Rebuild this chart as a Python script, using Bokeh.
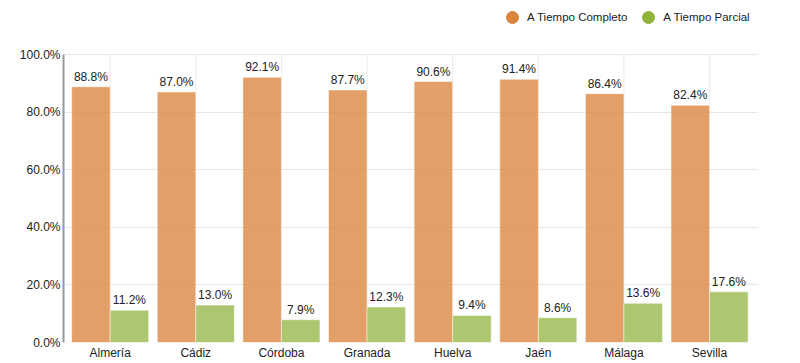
from bokeh.plotting import figure
from bokeh.models import (ColumnDataSource, FixedTicker, PrintfTickFormatter,
                          Range1d, Legend, LegendItem)
from bokeh.core.properties import value
from bokeh.embed import file_html
from bokeh.resources import INLINE

provinces = ["Almería", "Cádiz", "Córdoba", "Granada", "Huelva", "Jaén", "Málaga", "Sevilla"]
full_time = [88.8, 87.0, 92.1, 87.7, 90.6, 91.4, 86.4, 82.4]
part_time = [11.2, 13.0, 7.9, 12.3, 9.4, 8.6, 13.6, 17.6]
y_ticks = [0, 20, 40, 60, 80, 100]
series_names = ["A Tiempo Completo", "A Tiempo Parcial"]

ORANGE = "#DB843D"
GREEN = "#8EB23A"
FONT = "Liberation Sans"
BW = 0.45
W, H = 790, 363
TOP, BOTTOM, LEFT, RIGHT = 4, 21, 63, 33
FRAME_H = H - TOP - BOTTOM          # 338 px
PLOT_H = 288                        # px between 0% and 100%
Y_MAX = 100 * FRAME_H / PLOT_H      # head-room for the legend
NAN = float("nan")

idx = list(range(len(provinces)))
src_full = ColumnDataSource(dict(
    x=[i - BW / 2 for i in idx], top=full_time,
    label=[f"{v:.1f}%" for v in full_time]))
src_part = ColumnDataSource(dict(
    x=[i + BW / 2 for i in idx], top=part_time,
    label=[f"{v:.1f}%" for v in part_time]))

p = figure(width=W, height=H, output_backend="svg",
           toolbar_location=None,
           x_range=Range1d(-0.545, 7.56), y_range=Range1d(0, Y_MAX),
           min_border_left=LEFT, min_border_right=RIGHT, min_border_top=TOP,
           min_border_bottom=BOTTOM)
p.outline_line_color = None

# vertical grid lines at category centres, 0% .. 100%
p.segment(x0=idx, y0=[y_ticks[0]] * len(idx), x1=idx,
          y1=[y_ticks[-1]] * len(idx), line_color="#ebebeb", line_width=1)

p.vbar(x="x", top="top", width=BW, source=src_full, fill_color=ORANGE,
       fill_alpha=0.78, line_color="white", line_alpha=0.5, line_width=1)
p.vbar(x="x", top="top", width=BW, source=src_part, fill_color=GREEN,
       fill_alpha=0.72, line_color="white", line_alpha=0.5, line_width=1)

for src in (src_full, src_part):
    p.text(x="x", y="top", text="label", source=src, text_align="center",
           text_baseline="bottom", y_offset=-3, text_font=value(FONT),
           text_font_size="12px", text_color="#222222")

# Legend with circle glyphs (renderers hold no visible point)
r1 = p.scatter([NAN], [NAN], marker="circle", size=12, color=ORANGE)
r2 = p.scatter([NAN], [NAN], marker="circle", size=12, color=GREEN)
legend = Legend(items=[LegendItem(label=series_names[0], renderers=[r1]),
                       LegendItem(label=series_names[1], renderers=[r2])],
                orientation="horizontal", location=(434, 310),
                glyph_width=30, glyph_height=30, label_height=30,
                label_standoff=-7, spacing=6, padding=0, margin=0,
                border_line_color=None, background_fill_alpha=0,
                label_text_font=FONT, label_text_font_size="11.5px",
                label_text_color="#222222")
p.add_layout(legend)

# Axes
p.xaxis.ticker = FixedTicker(ticks=idx)
p.xaxis.major_label_overrides = {i: name for i, name in enumerate(provinces)}
p.xaxis.axis_line_color = None
p.xaxis.major_tick_line_color = None
p.xaxis.minor_tick_line_color = None
p.xaxis.major_tick_out = 0
p.xaxis.major_tick_in = 0
p.xaxis.minor_tick_out = 0
p.xaxis.major_label_standoff = 3
p.xaxis.major_label_text_font = FONT
p.xaxis.major_label_text_font_size = "12px"
p.xaxis.major_label_text_color = "#222222"

p.yaxis.ticker = FixedTicker(ticks=y_ticks)
p.yaxis.bounds = (y_ticks[0], y_ticks[-1])
p.yaxis.formatter = PrintfTickFormatter(format="%.1f%%")
p.yaxis.axis_line_color = "#999999"
p.yaxis.axis_line_width = 2
p.yaxis.major_tick_line_color = None
p.yaxis.minor_tick_line_color = None
p.yaxis.major_tick_out = 0
p.yaxis.major_tick_in = 0
p.yaxis.minor_tick_out = 0
p.yaxis.major_label_standoff = 3
p.yaxis.major_label_text_font = FONT
p.yaxis.major_label_text_font_size = "12px"
p.yaxis.major_label_text_color = "#222222"

p.xgrid.visible = False
p.ygrid.ticker = FixedTicker(ticks=y_ticks)
p.ygrid.grid_line_color = "#e6e6e6"

open("out.html", "w").write(file_html(p, INLINE))
